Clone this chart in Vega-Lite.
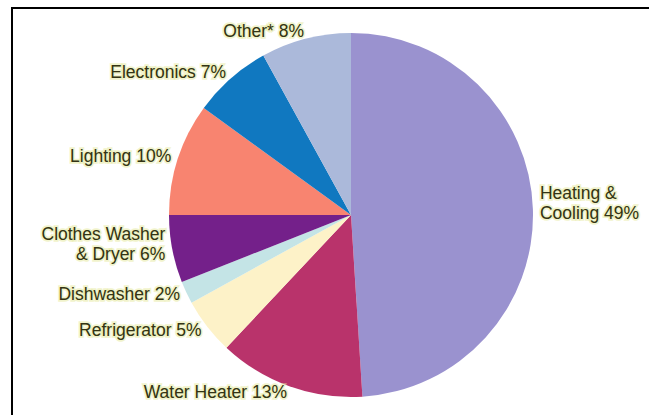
{
  "$schema": "https://vega.github.io/schema/vega-lite/v6.json",
  "width": 678,
  "height": 414,
  "padding": {"left": 12, "top": 8, "right": 0, "bottom": 0},
  "background": "white",
  "view": {"stroke": "black", "strokeWidth": 2},
  "data": {
    "values": [
      {"idx": 1, "category": "Heating & Cooling", "label": "Heating &\nCooling 49%", "value": 49},
      {"idx": 2, "category": "Water Heater", "label": "Water Heater 13%", "value": 13},
      {"idx": 3, "category": "Refrigerator", "label": "Refrigerator 5%", "value": 5},
      {"idx": 4, "category": "Dishwasher", "label": "Dishwasher 2%", "value": 2},
      {"idx": 5, "category": "Clothes Washer & Dryer", "label": "Clothes Washer\n& Dryer 6%", "value": 6},
      {"idx": 6, "category": "Lighting", "label": "Lighting 10%", "value": 10},
      {"idx": 7, "category": "Electronics", "label": "Electronics 7%", "value": 7},
      {"idx": 8, "category": "Other*", "label": "Other* 8%", "value": 8}
    ]
  },
  "encoding": {
    "theta": {"field": "value", "type": "quantitative", "stack": true},
    "order": {"field": "idx", "type": "quantitative", "sort": "ascending"},
    "color": {
      "field": "category",
      "type": "nominal",
      "scale": {
        "domain": ["Heating & Cooling", "Water Heater", "Refrigerator", "Dishwasher", "Clothes Washer & Dryer", "Lighting", "Electronics", "Other*"],
        "range": ["#9a92cf", "#b9336b", "#fdf2c8", "#c4e4e6", "#74208a", "#f88470", "#1078c0", "#abb9da"]
      },
      "legend": null
    }
  },
  "layer": [
    {"mark": {"type": "arc", "radius": 182}},
    {
      "mark": {
        "type": "text",
        "radius": 189,
        "lineBreak": "\n",
        "font": "Liberation Sans",
        "fontSize": 17.5,
        "lineHeight": 20,
        "baseline": "middle",
        "dy": {"expr": "indexof(datum.label, '\\n') >= 0 ? -15 : 0"},
        "align": {"expr": "sin(PI * (datum.value_start + datum.value_end) / 100) > 0 ? 'left' : 'right'"},
        "stroke": "#e6eaa0",
        "strokeWidth": 3.5,
        "strokeOpacity": 0.55
      },
      "encoding": {"text": {"field": "label"}, "color": {"value": "#e6eaa0"}}
    },
    {
      "mark": {
        "type": "text",
        "radius": 189,
        "lineBreak": "\n",
        "font": "Liberation Sans",
        "fontSize": 17.5,
        "lineHeight": 20,
        "baseline": "middle",
        "dy": {"expr": "indexof(datum.label, '\\n') >= 0 ? -15 : 0"},
        "align": {"expr": "sin(PI * (datum.value_start + datum.value_end) / 100) > 0 ? 'left' : 'right'"}
      },
      "encoding": {"text": {"field": "label"}, "color": {"value": "#333316"}}
    }
  ]
}
